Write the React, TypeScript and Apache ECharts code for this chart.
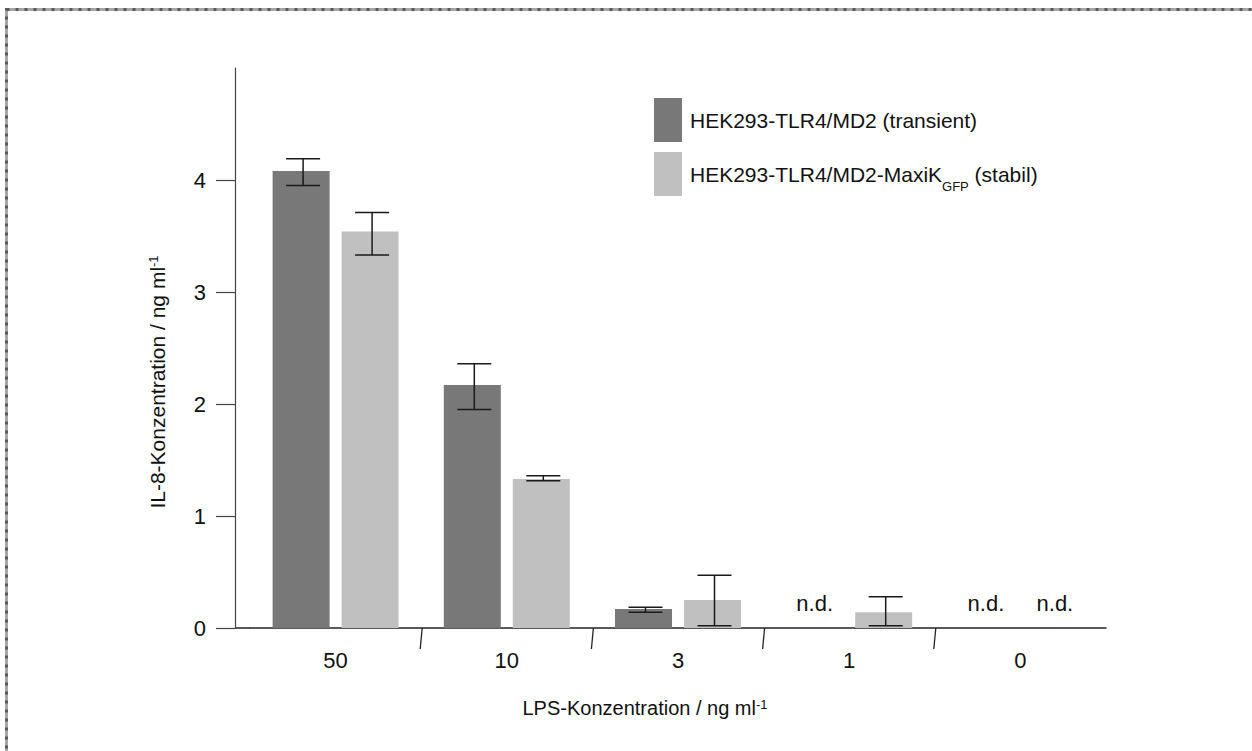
import React, { useEffect, useRef } from 'react';
import * as echarts from 'echarts';

// ---- data ----
const categories = ['50', '10', '3', '1', '0'];
const seriesNames = ['HEK293-TLR4/MD2 (transient)', 'HEK293-TLR4/MD2-MaxiKGFP (stabil)'];
// null = n.d. (not detected)
const transientValues: (number | null)[] = [4.08, 2.17, 0.17, null, null];
const transientLow: (number | null)[] = [3.95, 1.95, 0.14, null, null];
const transientHigh: (number | null)[] = [4.19, 2.36, 0.185, null, null];
const stableValues: (number | null)[] = [3.54, 1.33, 0.25, 0.14, null];
const stableLow: (number | null)[] = [3.33, 1.315, 0.02, 0.02, null];
const stableHigh: (number | null)[] = [3.71, 1.36, 0.47, 0.28, null];
const yTickValues = [0, 1, 2, 3, 4];
const boundaryIndices = [1, 2, 3, 4];
const ndLabel = 'n.d.';

// ---- style / layout ----
const FONT = '"Liberation Sans", Arial, Helvetica, sans-serif';
const DARK = '#787878';
const LIGHT = '#c0c0c0';
const BAR_W = 57;
const BAR_GAP = 12;
const WHISKER = 34;
const GRID_LEFT = 250;
const GRID_RIGHT = 146;
const GRID_TOP = 68;
const GRID_BOTTOM = 123;
const Y_AXIS_X = 235;
const W = 1252;
const H = 751;

function barData(values: (number | null)[]) {
  return values.map((v) =>
    v === null
      ? {
          value: 0,
          label: {
            show: true,
            position: 'top',
            distance: 14,
            formatter: ndLabel,
            fontFamily: FONT,
            fontSize: 22,
            color: '#111',
          },
        }
      : v
  );
}

function errData(low: (number | null)[], high: (number | null)[]) {
  const out: number[][] = [];
  low.forEach((l, i) => {
    const h = high[i];
    if (l !== null && h !== null) out.push([i, l, h]);
  });
  return out;
}

function errorSeries(name: string, data: number[][], offset: number) {
  return {
    type: 'custom',
    name,
    data,
    encode: { x: 0, y: [1, 2] },
    z: 5,
    renderItem: (params: any, api: any) => {
      const idx = api.value(0);
      const lo = api.coord([idx, api.value(1)]);
      const hi = api.coord([idx, api.value(2)]);
      const x = lo[0] + offset + 2;
      const half = WHISKER / 2;
      const style = { stroke: '#1a1a1a', lineWidth: 1.5 };
      return {
        type: 'group',
        children: [
          { type: 'line', shape: { x1: x, y1: hi[1], x2: x, y2: lo[1] }, style },
          { type: 'line', shape: { x1: x - half, y1: hi[1], x2: x + half, y2: hi[1] }, style },
          { type: 'line', shape: { x1: x - half, y1: lo[1], x2: x + half, y2: lo[1] }, style },
        ],
      };
    },
  };
}

export default function App() {
  const ref = useRef<HTMLDivElement>(null);

  useEffect(() => {
    if (!ref.current) return;
    const chart = echarts.init(ref.current, null, { renderer: 'svg' });
    const off = (BAR_W + BAR_GAP) / 2;
    const baseY = H - GRID_BOTTOM;

    const option: any = {
      animation: false,
      backgroundColor: '#ffffff',
      textStyle: { fontFamily: FONT },
      grid: { left: GRID_LEFT, right: GRID_RIGHT, top: GRID_TOP, bottom: GRID_BOTTOM },
      legend: {
        data: seriesNames,
        orient: 'vertical',
        left: 649,
        top: 93,
        itemWidth: 28,
        itemHeight: 44,
        itemGap: 10,
        icon: 'rect',
        selectedMode: false,
        formatter: (name: string) =>
          name === seriesNames[1] ? 'HEK293-TLR4/MD2-MaxiK{sub|GFP} (stabil)' : name,
        textStyle: {
          fontFamily: FONT,
          fontSize: 21,
          color: '#111',
          padding: [0, 0, 0, 3],
          rich: {
            sub: { fontFamily: FONT, fontSize: 13, color: '#111', verticalAlign: 'bottom', padding: [0, 0, -8, 0] },
          },
        },
      },
      xAxis: {
        type: 'category',
        data: categories,
        boundaryGap: true,
        axisLine: { show: true, lineStyle: { color: '#222', width: 1.5 } },
        axisTick: { show: false },
        axisLabel: { fontFamily: FONT, fontSize: 22, color: '#111', margin: 21 },
        splitLine: { show: false },
      },
      yAxis: {
        type: 'value',
        min: 0,
        max: 5,
        interval: 1,
        offset: GRID_LEFT - Y_AXIS_X,
        axisLine: { show: true, lineStyle: { color: '#444', width: 1.2 } },
        axisTick: { show: true, length: 19, customValues: yTickValues, lineStyle: { color: '#444', width: 1.2 } },
        axisLabel: { fontFamily: FONT, fontSize: 22, color: '#111', margin: 29, customValues: yTickValues },
        splitLine: { show: false },
      },
      series: [
        {
          type: 'bar',
          name: seriesNames[0],
          data: barData(transientValues),
          barWidth: BAR_W,
          barGap: `${Math.round((BAR_GAP / BAR_W) * 100)}%`,
          itemStyle: { color: DARK },
        },
        {
          type: 'bar',
          name: seriesNames[1],
          data: barData(stableValues),
          barWidth: BAR_W,
          barGap: `${Math.round((BAR_GAP / BAR_W) * 100)}%`,
          itemStyle: { color: LIGHT },
        },
        errorSeries('err-transient', errData(transientLow, transientHigh), -off),
        errorSeries('err-stable', errData(stableLow, stableHigh), off),
        {
          type: 'custom',
          name: 'boundary-ticks',
          data: boundaryIndices.map((i) => [i, 0]),
          encode: { x: 0, y: 1 },
          z: 5,
          renderItem: (params: any, api: any) => {
            const p = api.coord([api.value(0), 0]);
            const band = api.size([1, 0])[0];
            const x = p[0] - band / 2;
            return {
              type: 'line',
              shape: { x1: x + 1, y1: p[1], x2: x - 1, y2: p[1] + 21 },
              style: { stroke: '#222', lineWidth: 1.3 },
            };
          },
        },
      ],
      graphic: [
        // dotted frame
        {
          type: 'rect',
          silent: true,
          shape: { x: 6.5, y: 9.5, width: 1400, height: 900 },
          style: { fill: 'none', stroke: '#a6a6a6', lineWidth: 3 },
        },
        {
          type: 'rect',
          silent: true,
          shape: { x: 6.5, y: 9.5, width: 1400, height: 900 },
          style: { fill: 'none', stroke: '#5a5a5a', lineWidth: 3, lineDash: [3, 6] },
        },
        // extension of x baseline to the y axis
        {
          type: 'line',
          silent: true,
          shape: { x1: Y_AXIS_X, y1: baseY, x2: GRID_LEFT, y2: baseY },
          style: { stroke: '#222', lineWidth: 1.5 },
        },
        // axis titles
        {
          type: 'text',
          silent: true,
          x: 645,
          y: 708,
          style: {
            text: 'LPS-Konzentration / ng ml{sup|-1}',
            fontFamily: FONT,
            fontSize: 20,
            fill: '#111',
            align: 'center',
            verticalAlign: 'middle',
            rich: {
              sup: { fontFamily: FONT, fontSize: 13, fill: '#111', verticalAlign: 'top', padding: [0, 0, 8, 0] },
            },
          },
        },
        {
          type: 'text',
          silent: true,
          x: 157,
          y: 382,
          rotation: Math.PI / 2,
          style: {
            text: 'IL-8-Konzentration / ng ml{sup|-1}',
            fontFamily: FONT,
            fontSize: 21,
            fill: '#111',
            align: 'center',
            verticalAlign: 'middle',
            rich: {
              sup: { fontFamily: FONT, fontSize: 13, fill: '#111', verticalAlign: 'top', padding: [0, 0, 8, 0] },
            },
          },
        },
      ],
    };

    chart.setOption(option);
    return () => chart.dispose();
  }, []);

  return (
    <div
      ref={ref}
      style={{ position: 'fixed', left: 0, top: 0, width: W, height: H, background: '#fff' }}
    />
  );
}
